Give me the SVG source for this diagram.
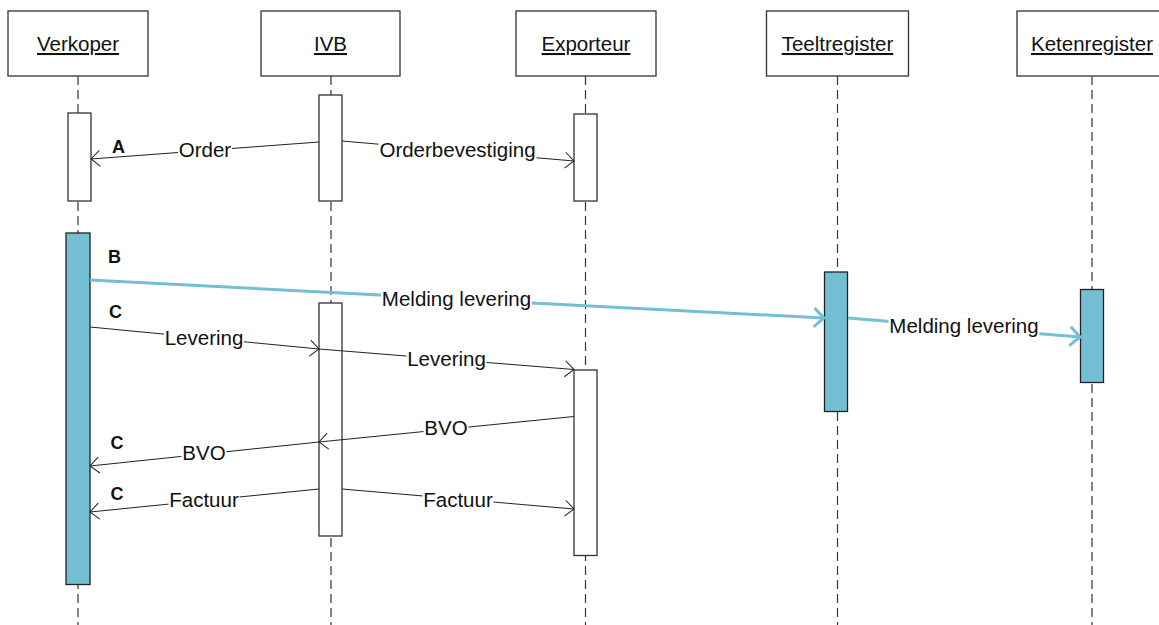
<svg xmlns="http://www.w3.org/2000/svg" width="1159" height="625" viewBox="0 0 1159 625">
<style>
  .hdr { fill: #fff; stroke: #333; stroke-width: 1.3; }
  .htxt { font-family: "Liberation Sans", Arial, sans-serif; font-size: 20.5px; fill: #111; text-anchor: middle; text-decoration: underline; }
  .life { stroke: #333; stroke-width: 1.2; stroke-dasharray: 9 5; fill: none; }
  .act { fill: #fff; stroke: #333; stroke-width: 1.3; }
  .actb { fill: #73BFD3; stroke: #222; stroke-width: 1.3; }
  .msg { stroke: #222; stroke-width: 1; fill: none; marker-end: url(#ah); }
  .msgb { stroke: #73BFD3; stroke-width: 3; fill: none; marker-end: url(#ahb); }
  .bg { fill: #fff; stroke: none; }
  .lbl { font-family: "Liberation Sans", Arial, sans-serif; font-size: 20.5px; fill: #111; text-anchor: middle; }
  .tag { font-family: "Liberation Sans", Arial, sans-serif; font-size: 18px; font-weight: bold; fill: #111; }
</style>
<defs>
  <marker id="ah" markerUnits="userSpaceOnUse" viewBox="-11 -10 13 20" refX="0" refY="0" markerWidth="13" markerHeight="20" orient="auto">
    <path d="M -9 -8 L 0 0 L -9 8" fill="none" stroke="#222" stroke-width="1"/>
  </marker>
  <marker id="ahb" markerUnits="userSpaceOnUse" viewBox="-13 -12 16 24" refX="0" refY="0" markerWidth="16" markerHeight="24" orient="auto">
    <path d="M -10 -9.5 L 0 0 L -10 9.5" fill="none" stroke="#73BFD3" stroke-width="3"/>
  </marker>
</defs>

<g id="lifelines">
  <line class="life" x1="78" y1="76" x2="78" y2="625"/>
  <line class="life" x1="331" y1="76" x2="331" y2="625"/>
  <line class="life" x1="585.5" y1="76" x2="585.5" y2="625"/>
  <line class="life" x1="837.5" y1="76" x2="837.5" y2="625"/>
  <line class="life" x1="1092" y1="76" x2="1092" y2="625"/>
</g>

<g id="Verkoper">
  <rect class="hdr" x="8" y="11" width="140" height="65"/>
  <text class="htxt" x="78" y="51">Verkoper</text>
  <rect class="act" x="68" y="113" width="23" height="88"/>
  <rect class="actb" x="66" y="233" width="24" height="351.5"/>
</g>
<g id="IVB">
  <rect class="hdr" x="261" y="11" width="139" height="65"/>
  <text class="htxt" x="330.5" y="51">IVB</text>
  <rect class="act" x="319" y="95" width="23" height="106"/>
  <rect class="act" x="319" y="303" width="23" height="233"/>
</g>
<g id="Exporteur">
  <rect class="hdr" x="516" y="11" width="140" height="65"/>
  <text class="htxt" x="586" y="51">Exporteur</text>
  <rect class="act" x="574" y="114" width="23" height="87"/>
  <rect class="act" x="574" y="370" width="23" height="185.5"/>
</g>
<g id="Teeltregister">
  <rect class="hdr" x="766.5" y="11" width="142" height="65"/>
  <text class="htxt" x="837.5" y="51">Teeltregister</text>
  <rect class="actb" x="824.5" y="272" width="23" height="139.5"/>
</g>
<g id="Ketenregister">
  <rect class="hdr" x="1017" y="11" width="152" height="65"/>
  <text class="htxt" x="1092" y="51">Ketenregister</text>
  <rect class="actb" x="1080.5" y="289.5" width="23" height="93"/>
</g>

<g id="connectors">
  <line class="msg" x1="319" y1="142" x2="91" y2="159"/>
  <line class="msg" x1="342" y1="141" x2="574" y2="161"/>
  <line class="msgb" x1="90" y1="280" x2="824" y2="318"/>
  <line class="msgb" x1="848" y1="318" x2="1080" y2="337"/>
  <line class="msg" x1="90" y1="327" x2="319" y2="349"/>
  <line class="msg" x1="319" y1="349" x2="574" y2="369.5"/>
  <line class="msg" x1="574" y1="416.5" x2="319" y2="442"/>
  <line class="msg" x1="319" y1="442" x2="90" y2="466"/>
  <line class="msg" x1="319" y1="489" x2="90" y2="512"/>
  <line class="msg" x1="342" y1="489" x2="574" y2="509"/>

  <rect class="bg" x="178" y="141" width="54" height="21"/>
  <rect class="bg" x="378.5" y="141" width="158" height="21"/>
  <rect class="bg" x="381" y="290" width="151" height="21"/>
  <rect class="bg" x="888.5" y="317" width="151" height="21"/>
  <rect class="bg" x="164" y="329" width="80" height="21"/>
  <rect class="bg" x="406.5" y="350" width="80" height="21"/>
  <rect class="bg" x="423.5" y="419" width="45" height="21"/>
  <rect class="bg" x="181.5" y="444" width="45" height="21"/>
  <rect class="bg" x="168.5" y="490.5" width="71" height="21"/>
  <rect class="bg" x="422.5" y="490.5" width="71" height="21"/>

  <text class="lbl" x="205" y="157">Order</text>
  <text class="lbl" x="457.5" y="157">Orderbevestiging</text>
  <text class="lbl" x="456.5" y="306">Melding levering</text>
  <text class="lbl" x="964" y="333">Melding levering</text>
  <text class="lbl" x="204" y="345">Levering</text>
  <text class="lbl" x="446.5" y="366">Levering</text>
  <text class="lbl" x="446" y="435">BVO</text>
  <text class="lbl" x="204" y="460">BVO</text>
  <text class="lbl" x="204" y="506.5">Factuur</text>
  <text class="lbl" x="458" y="506.5">Factuur</text>

  <text class="tag" x="112" y="153">A</text>
  <text class="tag" x="108" y="263">B</text>
  <text class="tag" x="109" y="318">C</text>
  <text class="tag" x="110.5" y="449">C</text>
  <text class="tag" x="110.5" y="500">C</text>
</g>
</svg>
